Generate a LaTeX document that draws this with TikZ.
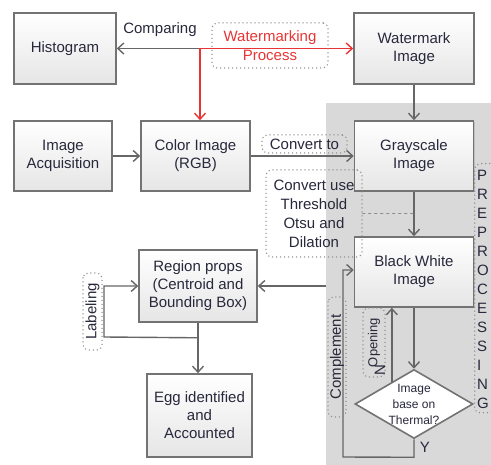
\documentclass[tikz,border=0pt]{standalone}
\usepackage{fontspec}
\setmainfont{Liberation Sans}
\usetikzlibrary{arrows.meta,shapes.geometric,shadows,calc}
\definecolor{boxline}{gray}{0.45}
\definecolor{wireline}{gray}{0.40}
\definecolor{panelcol}{gray}{0.85}
\definecolor{dotcol}{gray}{0.55}
\definecolor{wmred}{RGB}{232,52,52}
\definecolor{txtcol}{RGB}{40,40,60}
\tikzset{
  stepbox/.style={draw=boxline,line width=1.6pt,top color=white,bottom color=black!10,drop shadow={shadow xshift=1.2pt,shadow yshift=-1.2pt,opacity=0.3},align=center,text=txtcol,font=\fontsize{15}{18}\selectfont,inner sep=2pt},
  decbox/.style={diamond,draw=boxline,line width=1.6pt,fill=white,inner sep=0pt},
  dectxt/.style={align=center,text=txtcol,font=\fontsize{12}{16}\selectfont},
  wire/.style={draw=wireline,line width=1.4pt,-{Straight Barb[length=6pt,width=11pt]}},
  redwire/.style={draw=wmred,line width=1.4pt,-{Straight Barb[length=6pt,width=11pt]}},
  tag/.style={draw=dotcol,line width=1.5pt,line cap=round,dash pattern=on 0pt off 4pt,rounded corners=5pt,inner sep=1pt,align=center,text=txtcol,font=\fontsize{15}{19}\selectfont},
  lab/.style={text=txtcol,font=\fontsize{15}{18}\selectfont},
  callout/.style={draw=dotcol,line width=1.5pt,line cap=round,dash pattern=on 2pt off 4pt},
}
\begin{document}
\begin{tikzpicture}[x=1pt,y=1pt]
  \useasboundingbox (0,0) rectangle (491,-465);
  \clip (0,0) rectangle (491,-465);
  \fill[panelcol] (326,-103) rectangle (491,-465);
  \node[stepbox,minimum width=102,minimum height=71] (hist) at (65,-48.5) {Histogram};
  \node[stepbox,minimum width=120,minimum height=71] (wmark) at (414,-48.5) {Watermark\\Image};
  \node[stepbox,minimum width=98,minimum height=70] (acq) at (63,-156) {Image\\Acquisition};
  \node[stepbox,minimum width=109,minimum height=70] (rgb) at (195.5,-156) {Color Image\\(RGB)};
  \node[stepbox,minimum width=119,minimum height=70] (gray) at (414,-156) {Grayscale\\Image};
  \node[stepbox,minimum width=119,minimum height=70] (bw) at (414,-272) {Black White\\Image};
  \node[stepbox,minimum width=118,minimum height=72] (props) at (198,-286) {Region props\\(Centroid and\\Bounding Box)};
  \node[stepbox,minimum width=105,minimum height=83] (egg) at (199.5,-415.5) {Egg identified\\and\\Accounted};
  \node[decbox,minimum width=118,minimum height=69] (thermal) at (414,-404) {};
  \node[dectxt] (thermaltxt) at (thermal) {Image\\base on\\Thermal?};
  \coordinate (wmjoin) at (200,-48.5);
  \draw[wire] (wmjoin) -- (hist.east);
  \draw[redwire] (wmjoin) -- (wmark.west);
  \draw[redwire] (wmjoin) -- (wmjoin |- rgb.north);
  \draw[wire] (acq) -- (rgb);
  \draw[wire] (rgb) -- (gray);
  \draw[wire] (wmark) -- (gray);
  \draw[wire] (gray) -- (bw);
  \coordinate (bwout) at (326,-286);
  \draw[wire] (bwout) -- (props.east);
  \draw[wire] (props.south) -- (props.south |- egg.north);
  \coordinate (lblA) at ($(props.south)+(0,-15)$);
  \coordinate (lblB) at (104,-337);
  \draw[wire] (lblA) -- (lblB) |- (props.west);
  \draw[wire] (bw.south) -- (thermal.north);
  \coordinate (opnA) at ($(thermal.north)!0.37!(thermal.west)$);
  \draw[wire] (opnA) -- (opnA |- bw.south);
  \coordinate (cmpA) at ($(thermal.south)+(0,-18)$);
  \coordinate (cmpB) at (343,-457);
  \draw[wire] (thermal.south) -- (cmpA) -- (cmpB) |- ([yshift=2pt]bw.west);
  \node[lab] (cmptxt) at (160,-30) {Comparing};
  \node[tag,text=wmred,minimum width=116,minimum height=45] (wmlab) at (270,-45.5) {Watermarking\\Process};
  \node[tag,minimum width=85,minimum height=18] (cvlab) at (304.5,-144) {Convert to};
  \node[tag,minimum width=96,minimum height=87] (otsulab) at (314,-213.5) {Convert use\\Threshold\\Otsu and\\Dilation};
  \draw[callout] (otsulab.east) -- (otsulab.east -| gray.south);
  \node[tag,rotate=90,minimum width=77,minimum height=19] (lbllab) at (92.5,-311.5) {Labeling};
  \node[tag,rotate=90,minimum width=120,minimum height=18] (cmplab) at (337,-357) {Complement};
  \node[tag,rotate=90,minimum width=69,minimum height=22,font=\fontsize{13}{16}\selectfont] (opnlab) at (374,-342.5) {Opening};
  \node[lab,rotate=90] (nlab) at (380,-370) {N};
  \node[lab] (ylab) at (425,-447) {Y};
  \node[tag,anchor=north west,minimum width=40,minimum height=249] (prebox) at (474,-163) {};
  \foreach \ch [count=\i] in {P,R,E,P,R,O,C,E,S,S,I,N,G}
    \node[lab,anchor=west,inner sep=0pt] (pre\i) at (477,{-156-19*\i}) {\ch};
\end{tikzpicture}
\end{document}
